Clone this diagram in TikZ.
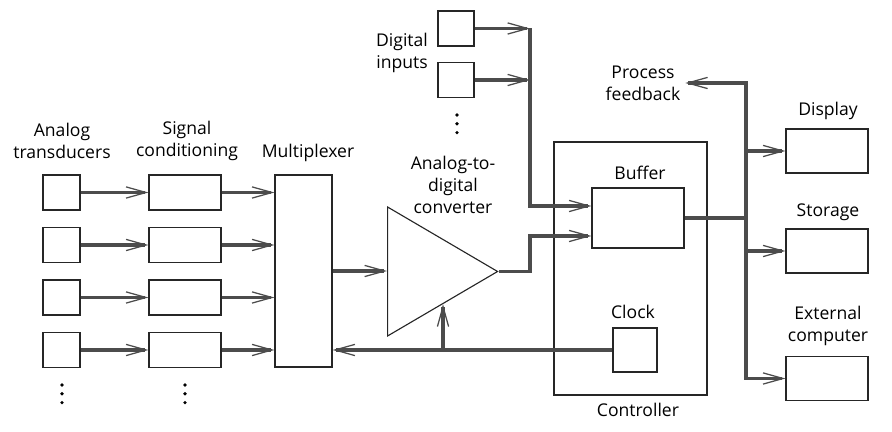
\documentclass[tikz,border=0pt]{standalone}
\usepackage{fontspec}
\setmainfont{Open Sans}
\usetikzlibrary{arrows.meta,shapes.geometric}

\begin{document}
\begin{tikzpicture}[
  box/.style={draw=black!85, line width=0.8pt, inner sep=0pt},
  lbl/.style={align=center, font=\fontsize{12.5}{15.6}\selectfont},
  sig/.style={draw=black!70, line width=2.2pt},
  >={Straight Barb[length=5mm, width=2.8mm, line width=0.9pt]}
]
\useasboundingbox (0,0) rectangle (22.3,10.8);

% analog channels
\foreach \i/\y in {1/5.9875, 2/4.675, 3/3.3625, 4/2.05} {
  \node[box, minimum width=0.925cm, minimum height=0.875cm] (td\i) at (1.5375,\y) {};
  \node[box, minimum width=1.8cm, minimum height=0.875cm] (sc\i) at (4.625,\y) {};
}
\node[box, minimum width=1.425cm, minimum height=4.8cm] (mux) at (7.5875,4.025) {};
\foreach \i in {1,...,4} {
  \draw[sig,->] (td\i) -- (sc\i);
  \draw[sig,->] (sc\i) -- (sc\i -| mux.west);
}
\foreach \x in {1.55,4.625}
  \foreach \k in {0,1,2}
    \fill (\x,1.175-0.22*\k) circle (1.3pt);

\node[lbl] (tdlbl) at (1.55,7.275) {Analog\\transducers};
\node[lbl] (sclbl) at (4.675,7.275) {Signal\\conditioning};
\node[lbl] (muxlbl) at (7.7,6.975) {Multiplexer};

% converter
\node[draw=black!85, line width=0.8pt, isosceles triangle, isosceles triangle stretches,
  minimum width=3.225cm, minimum height=2.75cm, inner sep=0pt, anchor=lower side] (adc) at (9.675,4.0125) {};
\node[lbl] (adclbl) at (11.325,6.175) {Analog-to-\\digital\\converter};
\draw[sig,->] (mux.east) -- (mux.east -| adc.lower side);

% digital inputs
\node[box, minimum width=0.9cm, minimum height=0.875cm] (di1) at (11.4,10.0875) {};
\node[box, minimum width=0.9cm, minimum height=0.875cm] (di2) at (11.4,8.8) {};
\node[lbl] (dilbl) at (10.05,9.475) {Digital\\inputs};
\foreach \k in {0,1,2}
  \fill (11.425,7.925-0.22*\k) circle (1.3pt);

% controller
\node[box, minimum width=3.825cm, minimum height=6.325cm] (ctl) at (15.7625,4.0875) {};
\node[box, minimum width=2.3cm, minimum height=1.5cm] (buf) at (15.95,5.35) {};
\node[box, minimum size=1.1cm] (clk) at (15.875,2.05) {};
\node[lbl] (buflbl) at (16.0,6.475) {Buffer};
\node[lbl] (clklbl) at (15.825,3.0) {Clock};
\node[lbl] (ctllbl) at (15.95,0.55) {Controller};

\coordinate (dbus) at (13.25,10.0875);
\draw[sig,->] (di1) -- (dbus);
\draw[sig,->] (di2) -- (di2 -| dbus);
\draw[sig,->] (dbus) |- ([yshift=3mm]buf.west);
\draw[sig,->] (adc.apex) -- (adc.apex -| dbus) |- ([yshift=-4.5mm]buf.west);
\draw[sig,->] (clk.west) -- (clk.west -| mux.east);
\draw[sig,->] (adc.right side |- clk.west) -- (adc.right side);

% outputs
\node[box, minimum width=2.05cm, minimum height=1.1cm] (disp) at (20.675,7.025) {};
\node[box, minimum width=2.05cm, minimum height=1.1cm] (stor) at (20.675,4.525) {};
\node[box, minimum width=2.05cm, minimum height=1.1cm] (ext) at (20.675,1.3375) {};
\node[lbl] (displbl) at (20.7,8.025) {Display};
\node[lbl] (storlbl) at (20.7,5.5) {Storage};
\node[lbl] (extlbl) at (20.7,2.65) {External\\computer};
\node[lbl] (pfb) at (16.075,8.725) {Process\\feedback};

\coordinate (obus) at (18.65,8.725);
\draw[sig] (buf.east) -- (buf.east -| obus);
\draw[sig,<->] (pfb.east) -| (ext.west -| obus) -- (ext.west);
\draw[sig,->] (disp.west -| obus) -- (disp.west);
\draw[sig,->] (stor.west -| obus) -- (stor.west);
\end{tikzpicture}
\end{document}
